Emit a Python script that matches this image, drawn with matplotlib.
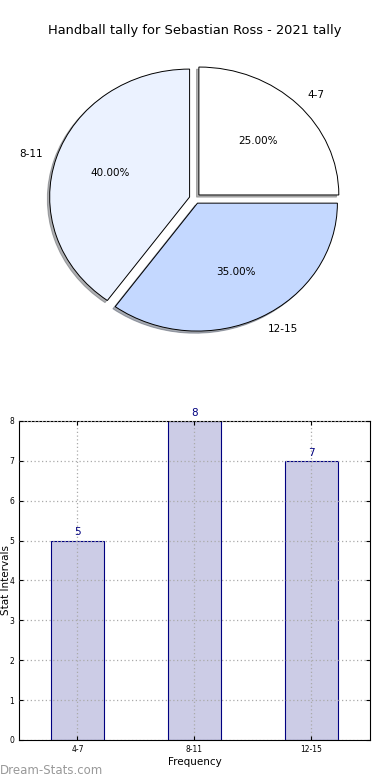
import matplotlib
matplotlib.use("Agg")
import matplotlib.pyplot as plt

categories = ["4-7", "8-11", "12-15"]
counts = [5, 8, 7]
pie_colors = ["#FFFFFF", "#EBF2FF", "#C4D8FF"]
title = "Handball tally for Sebastian Ross - 2021 tally"
yticks = [0, 1, 2, 3, 4, 5, 6, 7, 8]

fig = plt.figure(figsize=(3.9, 7.8), dpi=100)

# Pie
axp = fig.add_axes([0.0513, 0.5404, 0.897, 0.410])
wedges, texts, autotexts = axp.pie(
    counts, labels=categories, colors=pie_colors, autopct="%.2f%%",
    explode=[0.04] * len(counts),
    shadow={"ox": -0.012, "oy": -0.012, "shade": 0.6},
    startangle=0,
    wedgeprops=dict(edgecolor="black", linewidth=0.7),
    textprops=dict(fontsize=7.5))
axp.set_aspect("auto")
axp.set_xlim(-1.25, 1.25)
axp.set_ylim(-1.25, 1.25)
fig.text(0.5, 0.961, title, ha="center", va="center", fontsize=9.4)

# Bars
axb = fig.add_axes([0.0487, 0.0513, 0.9, 0.409])
x = list(range(len(categories)))
bars = axb.bar(x, counts, width=0.45, color="#CCCCE6", edgecolor="#000080", linewidth=0.8)
for xi, v in zip(x, counts):
    axb.text(xi, v + 0.08, str(v), ha="center", va="bottom", color="#000080", fontsize=7.5)
axb.set_xlim(-0.5, 2.5)
axb.set_ylim(0, 8)
axb.set_yticks(yticks)
axb.set_xticks(x)
axb.set_xticklabels(categories)
axb.tick_params(axis="both", labelsize=5.5, direction="in", top=True, right=True, length=3)
axb.grid(True, linestyle=(0, (1, 2)), color="#aaaaaa", linewidth=0.9)
axb.set_axisbelow(False)
axb.set_xlabel("Frequency", fontsize=7.5, labelpad=2)
axb.set_ylabel("Stat Intervals", fontsize=7.5)
axb.yaxis.set_label_coords(-0.024, 0.5)
for s in axb.spines.values():
    s.set_linewidth(0.8)

fig.text(0.0, 0.012, "Dream-Stats.com", color="#999999", fontsize=8.5, ha="left", va="center")

fig.savefig("out.png", dpi=100)
